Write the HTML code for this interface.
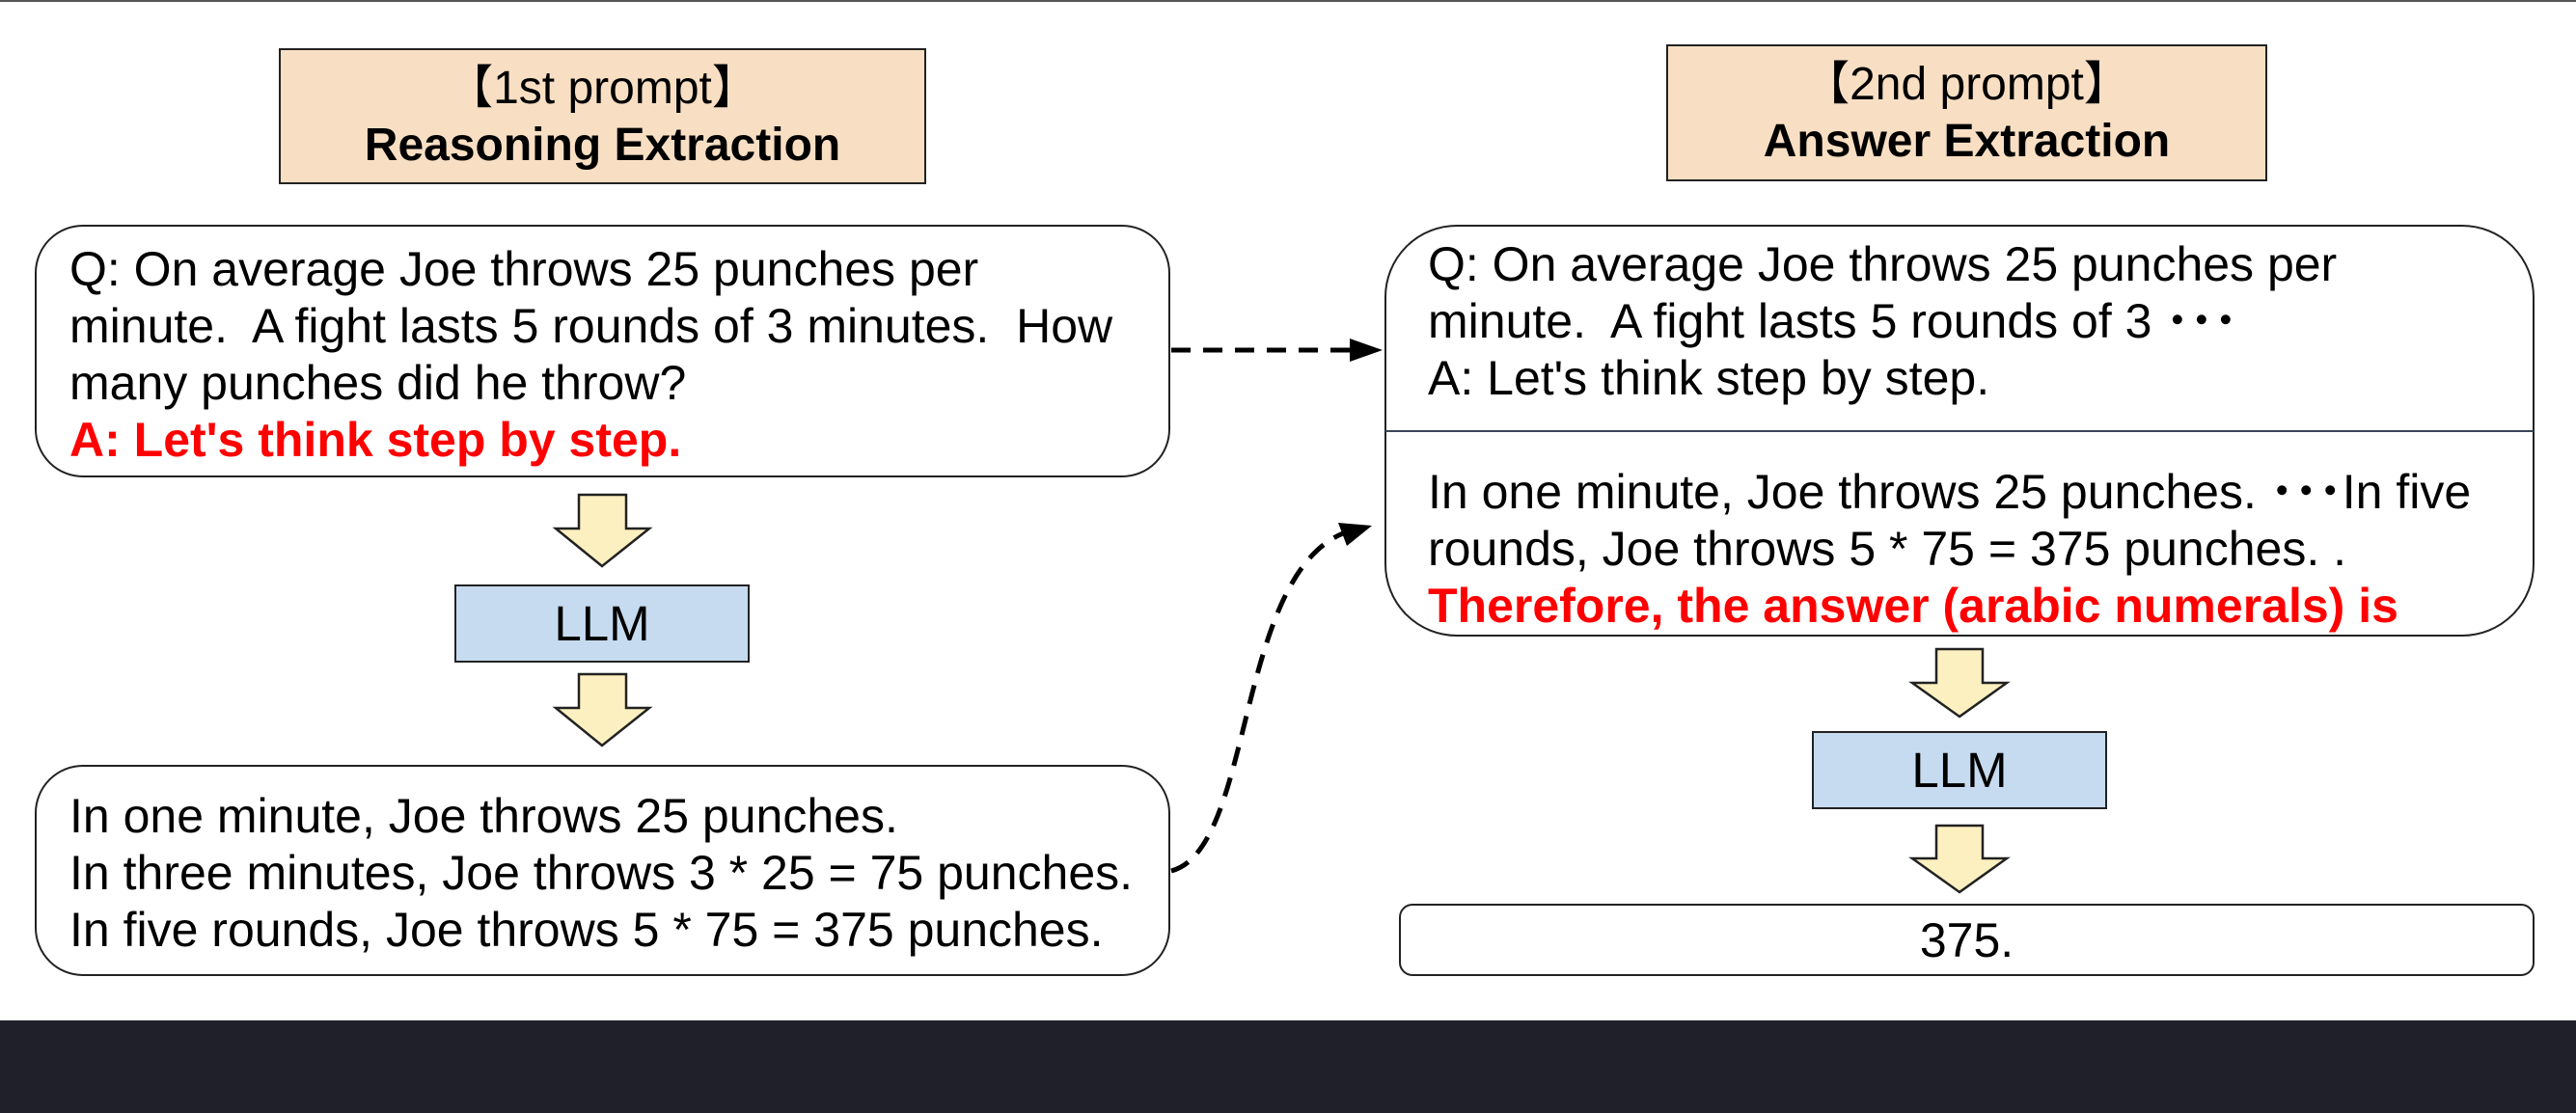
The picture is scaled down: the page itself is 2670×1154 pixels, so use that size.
<!DOCTYPE html>
<html><head><meta charset="utf-8"><style>
html,body{margin:0;padding:0;}
body{width:2670px;height:1154px;background:#fff;position:relative;overflow:hidden;font-family:"Liberation Sans",Arial,sans-serif;color:#000;}
.a{position:absolute;box-sizing:border-box;}
.hdr{background:#f8dfc3;border:2.5px solid #222;text-align:center;font-size:48px;line-height:59px;padding-top:10px;}
.rb{border:2.5px solid #222;border-radius:50px;background:#fff;}
.t{position:absolute;font-size:50px;line-height:59px;white-space:pre;}
.red{color:#ff0000;font-weight:bold;}
.llm{background:#c6dbef;border:2.5px solid #222;text-align:center;font-size:51px;}
</style></head><body>
<div class="a" style="left:0;top:0;width:2670px;height:2px;background:#555"></div>
<div class="a" style="left:0;top:1058px;width:2670px;height:96px;background:#1f2029"></div>

<!-- left -->
<div class="a hdr" style="left:289px;top:50px;width:671px;height:141px;">【1st prompt】<br><b>Reasoning Extraction</b></div>
<div class="a rb" style="left:36px;top:233px;width:1177px;height:262px;"></div>
<div class="t" style="left:72px;top:250px;">Q: On average Joe throws 25 punches per
minute.  A fight lasts 5 rounds of 3 minutes.  How
many punches did he throw?
<span class="red">A: Let's think step by step.</span></div>
<div class="a llm" style="left:471px;top:606px;width:306px;height:81px;line-height:77px;">LLM</div>
<div class="a rb" style="left:36px;top:793px;width:1177px;height:219px;"></div>
<div class="t" style="left:72px;top:817px;">In one minute, Joe throws 25 punches.
In three minutes, Joe throws 3 * 25 = 75 punches.
In five rounds, Joe throws 5 * 75 = 375 punches.</div>

<!-- right -->
<div class="a hdr" style="left:1727px;top:46px;width:623px;height:142px;">【2nd prompt】<br><b>Answer Extraction</b></div>
<div class="a rb" style="left:1435px;top:233px;width:1192px;height:427px;border-radius:75px;"></div>
<div class="a" style="left:1436px;top:446px;width:1190px;height:2px;background:#3a4555"></div>
<div class="t" style="left:1480px;top:245px;">Q: On average Joe throws 25 punches per
minute.  A fight lasts 5 rounds of 3 <b>･･･</b>
A: Let's think step by step.</div>
<div class="t" style="left:1480px;top:481px;">In one minute, Joe throws 25 punches. <b>･･･</b>In five
rounds, Joe throws 5 * 75 = 375 punches. .
<span class="red">Therefore, the answer (arabic numerals) is</span></div>
<div class="a llm" style="left:1878px;top:758px;width:306px;height:81px;line-height:77px;">LLM</div>
<div class="a rb" style="left:1450px;top:937px;width:1177px;height:75px;border-radius:14px;text-align:center;font-size:50px;line-height:72px;">375.</div>

<svg class="a" style="left:0;top:0" width="2670" height="1154">
<g fill="#fdf0c0" stroke="#222" stroke-width="2.5" stroke-linejoin="miter">
<polygon points="600,513 649,513 649,548 673,548 624,587 576,548 600,548"/>
<polygon points="600,699 649,699 649,734 673,734 624,773 576,734 600,734"/>
<polygon points="2007,673 2055,673 2055,708 2080,708 2031,743 1982,708 2007,708"/>
<polygon points="2007,856 2055,856 2055,890 2080,890 2031,925 1982,890 2007,890"/>
</g>
<g fill="none" stroke="#000" stroke-width="5" stroke-dasharray="20,13">
<line x1="1214" y1="363" x2="1400" y2="363"/>
<path d="M1214 903 C1300 880, 1280 600, 1392 553"/>
</g>
<polygon points="1433,363 1399,351 1399,375" fill="#000"/>
<polygon points="1422,545 1387,542 1396,566" fill="#000"/>
</svg>
</body></html>
